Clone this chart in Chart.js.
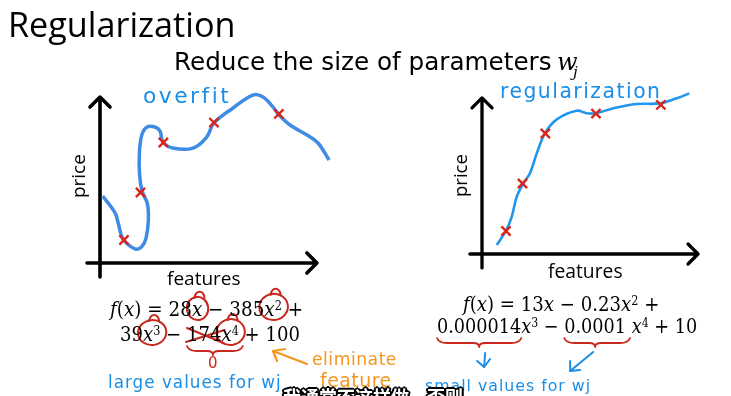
<!DOCTYPE html>
<html><head><meta charset="utf-8">
<script src="https://cdn.jsdelivr.net/npm/chart.js@4.4.0/dist/chart.umd.min.js"></script>
<style>
html,body{margin:0;padding:0;background:#fff;width:731px;height:396px;overflow:hidden;position:relative;}
.t{position:absolute;white-space:nowrap;line-height:1;color:#000;font-family:"Open Sans",sans-serif;z-index:3;}
.m{font-family:"DejaVu Serif",serif;font-stretch:condensed;}
.m i{font-style:italic;}
.m sup{font-size:0.62em;vertical-align:0.5em;line-height:0;}
.h{font-family:"DejaVu Sans",sans-serif;font-weight:400;letter-spacing:1px;}
.blue{color:#1a8ee6;}
.orange{color:#f5961e;}
.red{color:#c8281e;}
canvas{position:absolute;}
#ov{left:0;top:0;z-index:2;}
#cL,#cR{z-index:1;}
</style></head><body>
<canvas id="cL" width="300" height="200" style="left:50px;top:80px;width:300px;height:200px"></canvas>
<canvas id="cR" width="300" height="200" style="left:430px;top:75px;width:300px;height:200px"></canvas>
<canvas id="ov" width="731" height="396" style="width:731px;height:396px"></canvas>

<div class="t" id="title" style="font-size:33px">Regularization</div>
<div class="t" id="sub" style="font-size:22px;font-family:'DejaVu Sans',sans-serif">Reduce the size of parameters</div>
<div class="t m" id="wj" style="font-size:24px;font-stretch:normal"><i>w</i></div>
<div class="t m" id="wjs" style="font-size:15px;font-stretch:normal"><i>j</i></div>

<div class="t" id="featL" style="font-size:18px">features</div>
<div class="t" id="featR" style="font-size:18px">features</div>
<div class="t" id="priceL" style="font-size:18.5px;transform-origin:0 0;transform:rotate(-90deg)">price</div>
<div class="t" id="priceR" style="font-size:18.5px;transform-origin:0 0;transform:rotate(-90deg)">price</div>

<div class="t h blue" id="hOver" style="font-size:18px;letter-spacing:2.5px">overfit</div>
<div class="t h blue" id="hReg" style="font-size:18px;letter-spacing:1.5px">regularization</div>

<div class="t m" id="fL1" style="font-size:22px"><i>f</i>(<i>x</i>) = 28<span id="cx1"><i>x</i></span> − 385<span id="cx2"><i>x</i><sup>2</sup></span> +</div>
<div class="t m" id="fL2" style="font-size:22px">39<span id="cx3"><i>x</i><sup>3</sup></span> − <span id="n174">174</span><span id="cx4"><i>x</i><sup>4</sup></span> + 100</div>
<div class="t m" id="fR1" style="font-size:22px"><i>f</i>(<i>x</i>) = 13<i>x</i> − 0.23<i>x</i><sup>2</sup> +</div>
<div class="t m" id="fR2" style="font-size:22px"><span id="b1">0.000014</span><i>x</i><sup>3</sup> − <span id="b2">0.0001</span> <i>x</i><sup>4</sup> + 10</div>

<div class="t h red" id="zero" style="font-size:15px;letter-spacing:0">0</div>
<div class="t h orange" id="elim" style="font-size:16px;letter-spacing:0.5px">eliminate</div>
<div class="t h orange" id="feat2" style="font-size:16px;letter-spacing:0.5px">feature</div>
<div class="t h blue" id="large" style="font-size:15px">large values for wj</div>
<div class="t h blue" id="small" style="font-size:15px">small values for wj</div>

<div class="t" id="cn" style="font-family:'Noto Sans CJK SC',sans-serif;font-weight:700;font-size:20px;color:#fff;text-shadow:-1.5px -1.5px 0 #000,1.5px -1.5px 0 #000,-1.5px 1.5px 0 #000,1.5px 1.5px 0 #000,0 2px 0 #000,0 -2px 0 #000,2px 0 0 #000,-2px 0 0 #000;z-index:4">我通常不这样做，否则</div>

<script>
// ---------- data ----------
const markerX = [1.09, 1.84, 2.88, 5.18, 8.13];
const markerY = [1.35, 4.15, 7.09, 8.26, 8.77];

const overfitX = [0.12,0.68,0.83,0.99,1.21,1.64,1.90,2.09,2.20,2.15,1.91,1.80,1.79,1.90,2.14,2.50,2.73,2.86,3.32,4.23,4.85,5.18,6.05,6.95,7.41,7.86,8.14,8.64,9.41,9.91,10.41];
const overfitY = [3.94,2.96,2.34,1.55,1.16,0.81,0.96,1.45,2.53,3.51,4.24,5.18,6.47,7.53,8.00,8.00,7.76,7.12,6.76,6.76,7.41,8.24,9.12,9.88,9.76,9.18,8.71,8.12,7.53,7.06,6.06];

const regX = [0.67,1.09,1.35,1.58,1.88,2.18,2.49,2.86,3.40,4.30,4.76,5.18,5.97,7.03,8.09,8.85,9.42];
const regY = [0.53,1.37,2.19,3.37,4.16,4.75,5.92,7.10,7.92,8.43,8.28,8.28,8.57,8.82,8.86,9.16,9.45];

const pts = (xs, ys) => xs.map((x, i) => ({x, y: ys[i]}));

// ---------- arrow axes plugin ----------
const arrowAxes = {
  id: 'arrowAxes',
  beforeDatasetsDraw(chart, args, o) {
    const {ctx, scales: {x, y}} = chart;
    const x0 = x.getPixelForValue(0), y0 = y.getPixelForValue(0);
    const yTop = y.getPixelForValue(o.yTo), yBot = y.getPixelForValue(o.yFrom);
    const xL = x.getPixelForValue(o.xFrom), xR = x.getPixelForValue(o.xTo);
    ctx.save();
    ctx.strokeStyle = '#000'; ctx.lineWidth = o.w; ctx.lineCap = 'round'; ctx.lineJoin = 'round';
    ctx.beginPath();
    ctx.moveTo(x0, yBot); ctx.lineTo(x0, yTop);
    ctx.moveTo(x0 - o.a, yTop + o.a); ctx.lineTo(x0, yTop); ctx.lineTo(x0 + o.a, yTop + o.a);
    ctx.moveTo(xL, y0); ctx.lineTo(xR, y0);
    ctx.moveTo(xR - o.a, y0 - o.a); ctx.lineTo(xR, y0); ctx.lineTo(xR - o.a, y0 + o.a);
    ctx.stroke();
    ctx.restore();
  }
};

function makeChart(id, cx, cy, pad, lineColor, lineW, axes) {
  return new Chart(document.getElementById(id), {
    type: 'scatter',
    data: {
      datasets: [
        {data: pts(cx, cy), showLine: true, borderColor: lineColor, borderWidth: lineW, tension: 0.35, pointRadius: 0, fill: false, clip: false, order: 2},
        {data: pts(markerX, markerY), showLine: false, pointStyle: 'crossRot', pointRadius: 6.5, borderColor: '#d8261c', borderWidth: 2.4, backgroundColor: '#d8261c', clip: false, order: 1}
      ]
    },
    options: {
      responsive: false, animation: false, devicePixelRatio: 1,
      layout: {padding: pad},
      scales: {
        x: {type: 'linear', min: 0, max: 10.5, display: false},
        y: {type: 'linear', min: 0, max: 10, display: false}
      },
      plugins: {legend: {display: false}, tooltip: {enabled: false}, arrowAxes: axes},
      events: []
    },
    plugins: [arrowAxes]
  });
}

makeChart('cL', overfitX, overfitY, {left: 50, right: 19, top: 13, bottom: 17}, '#3f8ce4', 3.5,
  {xFrom: -0.59, xTo: 9.86, yFrom: -0.82, yTo: 9.76, w: 3.6, a: 10});
makeChart('cR', regX, regY, {left: 52, right: 17, top: 9, bottom: 21}, '#2196ee', 2.6,
  {xFrom: -0.55, xTo: 9.82, yFrom: -0.82, yTo: 9.18, w: 3.3, a: 10});

// ---------- text placement ----------
function place(id, left, baseline, width) {
  const el = document.getElementById(id);
  const mk = document.createElement('span');
  mk.style.cssText = 'display:inline-block;width:0;height:0;vertical-align:baseline;letter-spacing:0';
  el.appendChild(mk);
  el.style.left = left + 'px'; el.style.top = '0px';
  if (width) {
    const w = el.scrollWidth;
    const fs = parseFloat(getComputedStyle(el).fontSize);
    el.style.fontSize = (fs * width / w) + 'px';
  }
  const b = mk.offsetTop;
  el.style.top = (baseline - b) + 'px';
  return {baseline, fs: parseFloat(el.style.fontSize || getComputedStyle(el).fontSize)};
}
place('title', 8, 37, 228);
place('sub', 174, 70, 378);
place('wj', 557, 70);
place('wjs', 573, 77);
place('featL', 167, 285, 74);
place('featR', 548, 278, 75);
place('hOver', 143, 103, 92);
place('hReg', 500, 98, 164);
const L1 = place('fL1', 110, 316, 193);
const L2 = place('fL2', 120, 341, 180);
place('fR1', 463, 311, 197);
const R2 = place('fR2', 437, 333, 260);
place('elim', 312, 365, 85);
place('feat2', 320, 387, 72);
place('large', 108, 388, 176);
place('small', 425, 391, 167);
place('cn', 283, 404, 180);

function placeRot(id, xBase, yBottom, len) {
  const el = document.getElementById(id);
  const mk = document.createElement('span');
  mk.style.cssText = 'display:inline-block;width:0;height:0;vertical-align:baseline';
  el.appendChild(mk);
  const w = el.scrollWidth;
  const fs = parseFloat(getComputedStyle(el).fontSize);
  el.style.fontSize = (fs * len / w) + 'px';
  const b = mk.offsetTop;
  el.style.left = (xBase - b) + 'px';
  el.style.top = yBottom + 'px';
}
placeRot('priceL', 85, 198, 44);
placeRot('priceR', 467, 197, 43);

// ---------- hand-drawn annotations ----------
const ov = document.getElementById('ov').getContext('2d');
ov.lineCap = 'round'; ov.lineJoin = 'round';
const RED = '#c8281e', BLUE = '#1a8ee6', ORANGE = '#f5961e';
const R = id => document.getElementById(id).getBoundingClientRect();
function line(c, w, p) { ov.strokeStyle = c; ov.lineWidth = w; ov.beginPath(); ov.moveTo(p[0], p[1]); for (let i = 2; i < p.length; i += 2) ov.lineTo(p[i], p[i + 1]); ov.stroke(); }
function circleAround(id, L, extraUp) {
  const r = R(id);
  const cx = (r.left + r.right) / 2 + 0.5;
  const cy = L.baseline - 0.37 * L.fs - extraUp;
  const rx = r.width / 2 + 5.5, ry = 0.57 * L.fs + extraUp;
  ov.strokeStyle = RED; ov.lineWidth = 2;
  ov.beginPath(); ov.ellipse(cx, cy, rx, ry, -0.12, 0, Math.PI * 2); ov.stroke();
  const hx = cx + 2, hy = cy - ry + 1;
  ov.beginPath();
  ov.moveTo(hx - 5, hy); ov.quadraticCurveTo(hx - 4, hy - 6, hx, hy - 6);
  ov.quadraticCurveTo(hx + 4, hy - 6, hx + 5, hy); ov.stroke();
}
circleAround('cx1', L1, 0);
circleAround('cx2', L1, 1.5);
circleAround('cx3', L2, 1);
circleAround('cx4', L2, 1.5);
// strike through 174
const r174 = R('n174');
line(RED, 2, [r174.left, L2.baseline - 13, r174.right + 2, L2.baseline + 2]);
line(RED, 2, [r174.left - 1, L2.baseline + 1, r174.right + 3, L2.baseline - 11]);
function brace(x1, x2, y, tipX, c) {
  ov.strokeStyle = c; ov.lineWidth = 1.8;
  ov.beginPath();
  ov.moveTo(x1, y); ov.quadraticCurveTo(x1 + 2, y + 5, x1 + 10, y + 5);
  ov.lineTo(tipX - 6, y + 5); ov.quadraticCurveTo(tipX, y + 5, tipX, y + 9);
  ov.quadraticCurveTo(tipX, y + 5, tipX + 6, y + 5);
  ov.lineTo(x2 - 10, y + 5); ov.quadraticCurveTo(x2 - 2, y + 5, x2, y);
  ov.stroke();
}
const r4 = R('cx4');
const tip0 = (r174.left + r4.right) / 2;
brace(r174.left, r4.right + 4, L2.baseline + 5, tip0, RED);
place('zero', tip0 - 5, L2.baseline + 27);
const rb1 = R('b1'), rb2 = R('b2');
const t1 = (rb1.left + rb1.right) / 2, t2 = (rb2.left + rb2.right) / 2;
brace(rb1.left, rb1.right, R2.baseline + 5, t1, RED);
brace(rb2.left, rb2.right + 4, R2.baseline + 5, t2, RED);
// orange arrow
line(ORANGE, 2.2, [307, 364, 273, 351]);
line(ORANGE, 2.2, [285, 349, 273, 351, 277, 361]);
// blue arrows
line(BLUE, 2, [t1 + 6, 353, t1 + 5, 367]);
line(BLUE, 2, [t1 - 2, 361, t1 + 5, 367, t1 + 11, 359]);
line(BLUE, 2, [t2 - 2, 352, t2 - 25, 371]);
line(BLUE, 2, [t2 - 25, 361, t2 - 25, 371, t2 - 15, 370]);
</script>
</body></html>
